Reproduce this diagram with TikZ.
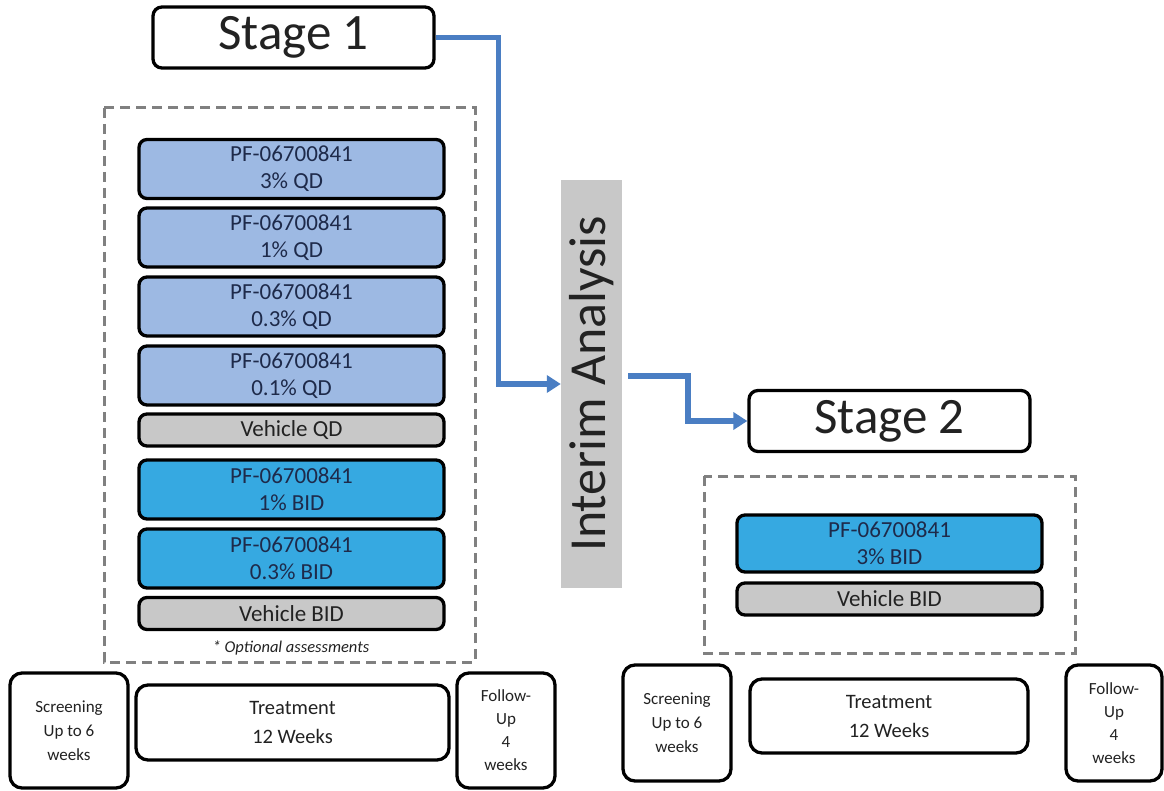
\documentclass[tikz,border=0pt]{standalone}
\usepackage{fontspec}
\setmainfont{Carlito}
\usetikzlibrary{arrows.meta,positioning}
\definecolor{armlight}{HTML}{9DB9E3}
\definecolor{armbright}{HTML}{36A9E1}
\definecolor{vehgray}{HTML}{C8C8C8}
\definecolor{flowblue}{HTML}{4A7EC3}
\definecolor{dashgray}{HTML}{808080}
\definecolor{navytext}{HTML}{1E2A4A}
\definecolor{inktext}{HTML}{222222}
\tikzset{
  every node/.style={text=inktext},
  stagebox/.style={draw=black, line width=3.3pt, rounded corners=9pt, fill=white,
    minimum width=281pt, minimum height=61pt, font=\fontsize{51}{60}\selectfont, inner sep=0pt},
  armbox/.style={draw=black, line width=3.3pt, rounded corners=8pt, minimum width=305pt,
    align=center, inner sep=0pt, font=\fontsize{23}{27}\selectfont},
  druglight/.style={armbox, fill=armlight, minimum height=59pt, text=navytext},
  drugbright/.style={armbox, fill=armbright, minimum height=59pt, text=navytext},
  vehicle/.style={armbox, fill=vehgray, minimum height=32pt},
  group/.style={draw=dashgray, line width=3pt, dash pattern=on 10pt off 6pt},
  phasebox/.style={draw=black, line width=3.3pt, rounded corners=12pt, fill=white,
    align=center, inner sep=0pt},
  flow/.style={draw=flowblue, line width=5.5pt,
    -{Triangle[length=14pt,width=17pt]}},
}
\begin{document}
\begin{tikzpicture}[x=1pt,y=-1pt]
\useasboundingbox (0,0) rectangle (1164,791);

% ---- stage 1 ----
\node[stagebox] (s1) at (293.5,37.5) {Stage 1};
\draw[group] (104,108) rectangle (475,662);
\node[druglight] (a1) at (291.5,169) {PF-06700841\\3\% QD};
\node[druglight] (a2) at (291.5,237.5) {PF-06700841\\1\% QD};
\node[druglight] (a3) at (291.5,306.5) {PF-06700841\\0.3\% QD};
\node[druglight] (a4) at (291.5,375.5) {PF-06700841\\0.1\% QD};
\node[vehicle] (v1) at (291.5,430) {Vehicle QD};
\node[drugbright] (b1) at (291.5,489.5) {PF-06700841\\1\% BID};
\node[drugbright] (b2) at (291.5,558.5) {PF-06700841\\0.3\% BID};
\node[vehicle] (v2) at (291.5,613.5) {Vehicle BID};
\node[font=\fontsize{16.5}{19}\selectfont\itshape] (opt) at (291,648) {* Optional assessments};

% ---- stage 1 timeline ----
\node[phasebox, minimum width=118pt, minimum height=115pt,
  font=\fontsize{17}{24}\selectfont] (scr1) at (69,730.5) {Screening\\Up to 6\\weeks};
\node[phasebox, minimum width=313pt, minimum height=75pt,
  font=\fontsize{20.5}{29}\selectfont] (trt1) at (292.5,722.5) {Treatment\\12 Weeks};
\node[phasebox, minimum width=98pt, minimum height=115pt,
  font=\fontsize{17}{23}\selectfont] (fu1) at (506,730.5) {Follow-\\Up\\4\\weeks};

% ---- interim analysis ----
\node[fill=vehgray, minimum width=61pt, minimum height=408pt, inner sep=0pt] (ia) at (591.5,384) {};
\node[rotate=90, font=\fontsize{52}{60}\selectfont] (ialbl) at (ia.center) {Interim Analysis};

% ---- stage 2 ----
\node[stagebox] (s2) at (889.5,421) {Stage 2};
\draw[group] (704,476) rectangle (1075,653);
\node[drugbright, minimum height=57pt] (c1) at (889.5,543.5) {PF-06700841\\3\% BID};
\node[vehicle] (v3) at (889.5,599) {Vehicle BID};

% ---- stage 2 timeline ----
\node[phasebox, minimum width=108pt, minimum height=116pt,
  font=\fontsize{17}{24}\selectfont] (scr2) at (677,723) {Screening\\Up to 6\\weeks};
\node[phasebox, minimum width=278pt, minimum height=74pt,
  font=\fontsize{20.5}{29}\selectfont] (trt2) at (889,716) {Treatment\\12 Weeks};
\node[phasebox, minimum width=96pt, minimum height=116pt,
  font=\fontsize{17}{23}\selectfont] (fu2) at (1114,723) {Follow-\\Up\\4\\weeks};

% ---- flow arrows ----
\draw[flow] (s1.east) -- ++(63,0) |- (ia.west);
\draw[flow] ([xshift=6pt,yshift=8pt]ia.east) -- ++(60,0) |- (s2.west);
\end{tikzpicture}
\end{document}
